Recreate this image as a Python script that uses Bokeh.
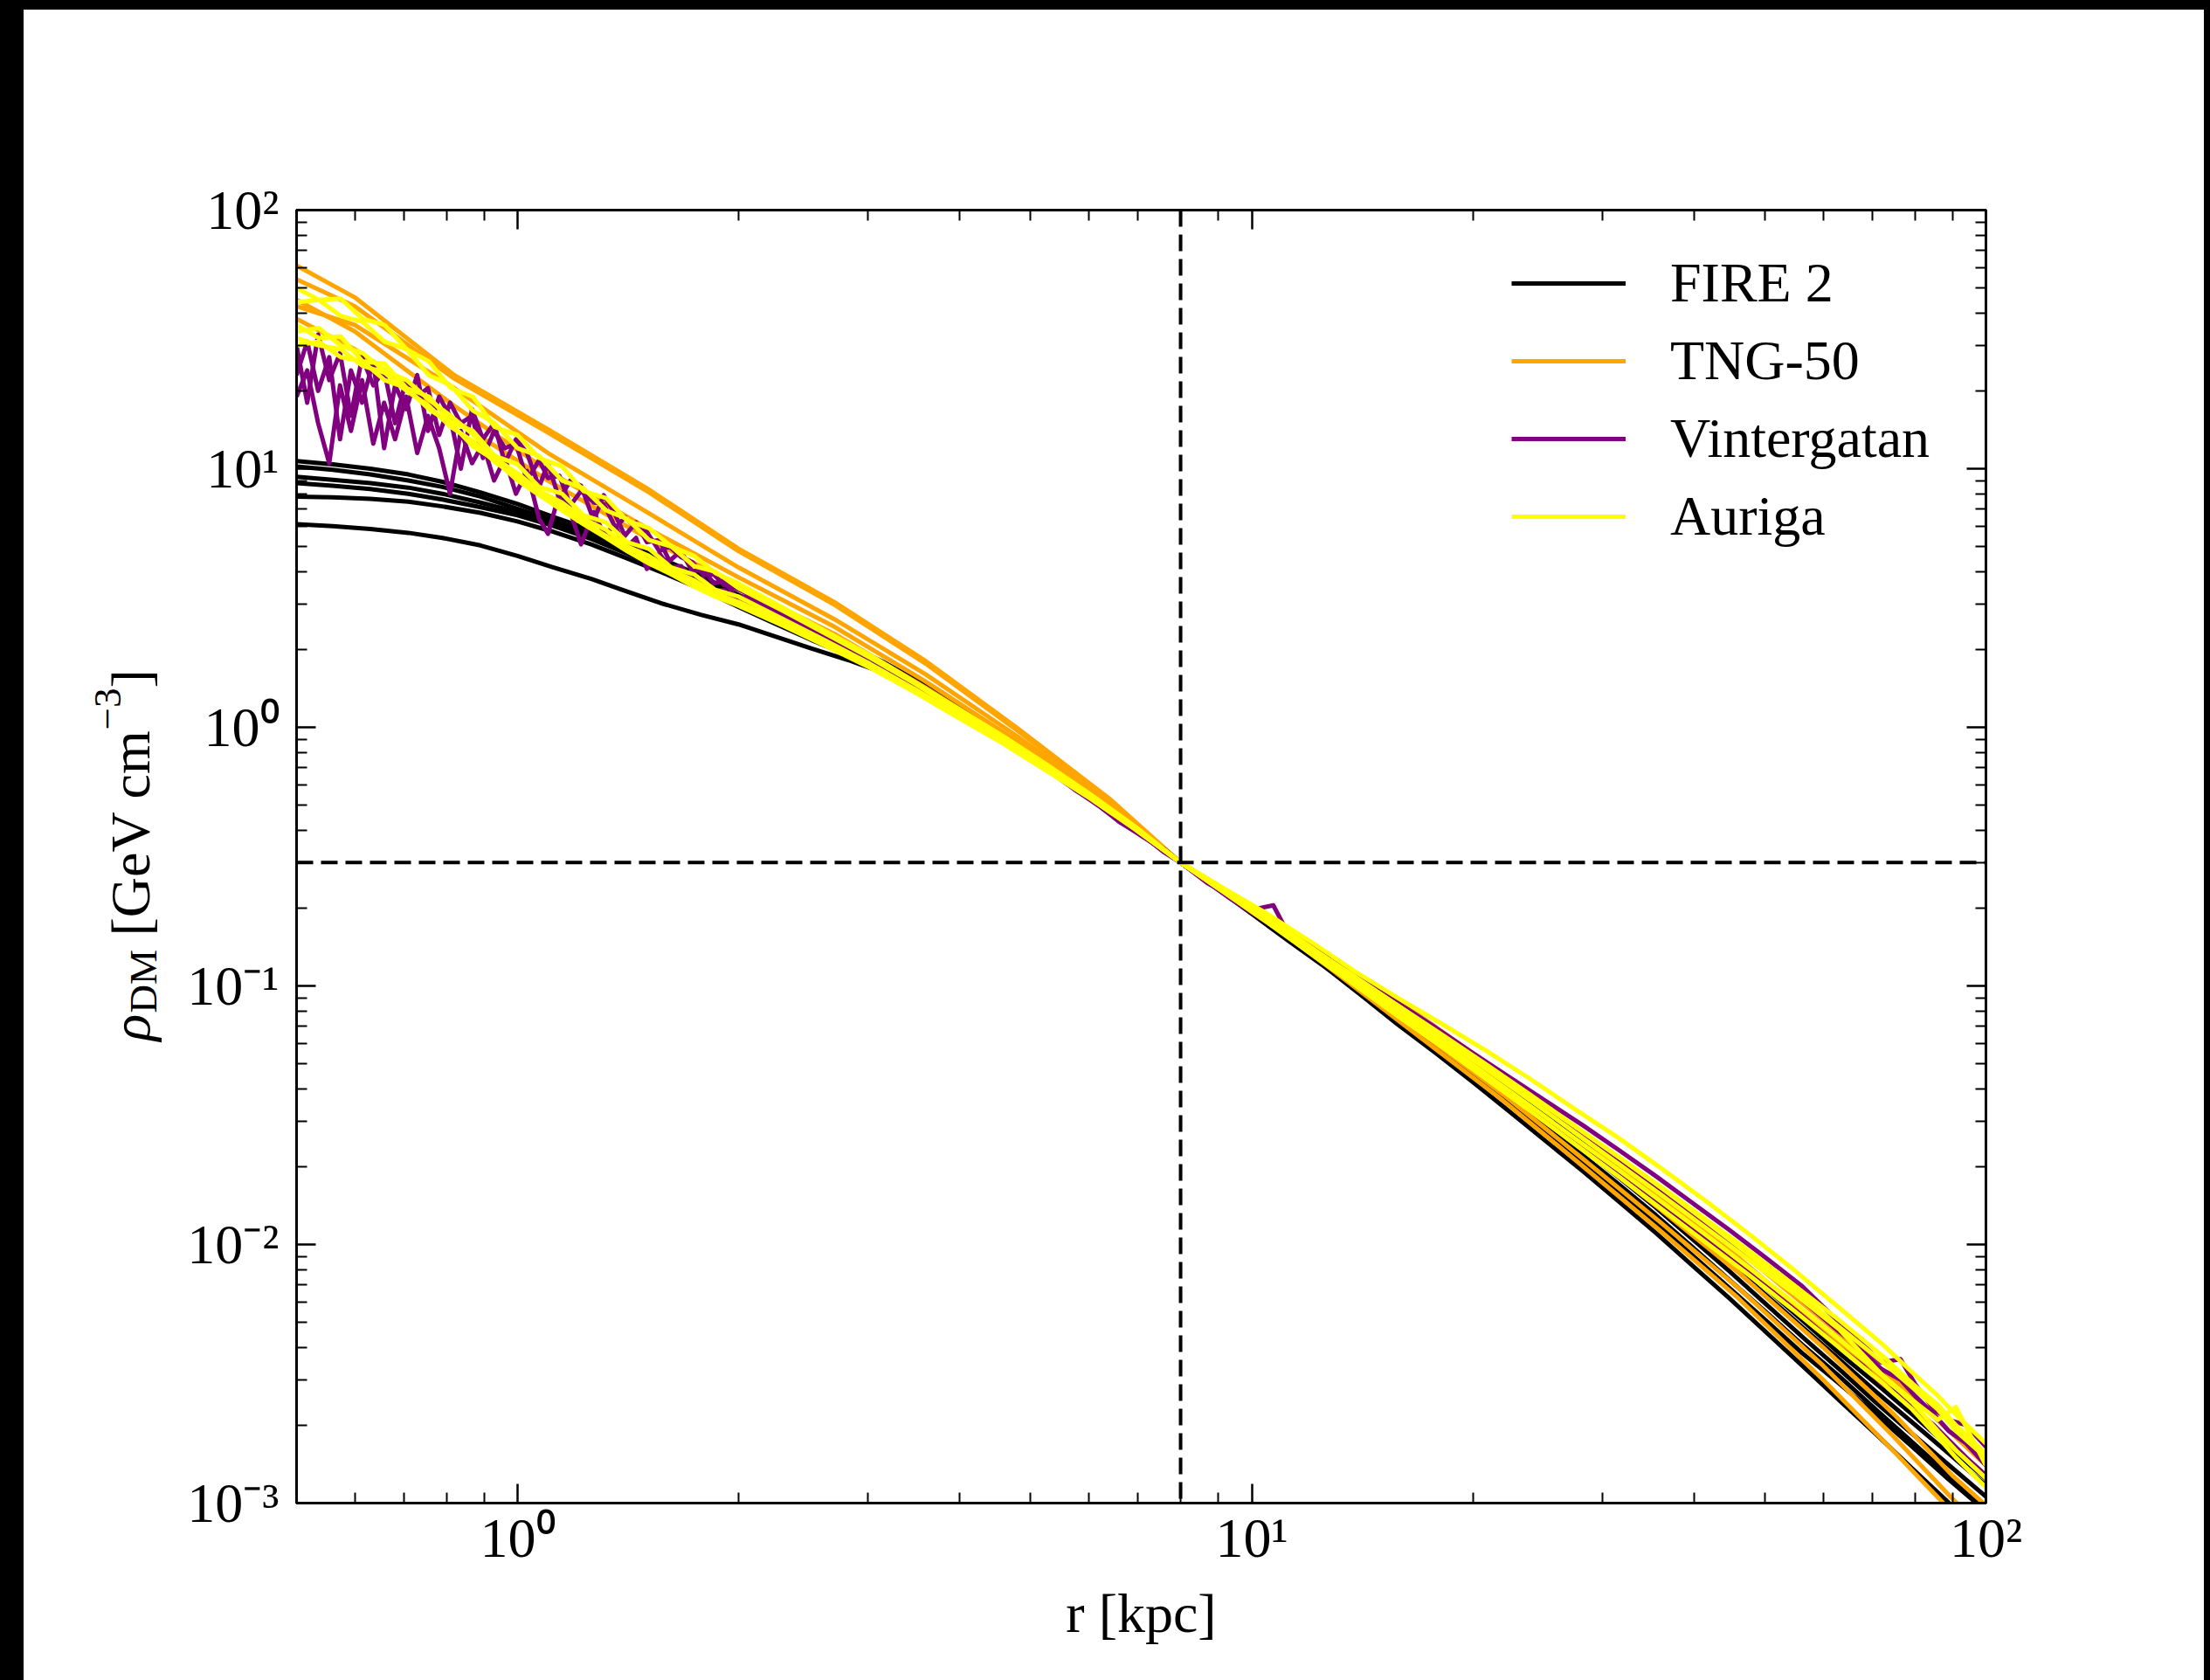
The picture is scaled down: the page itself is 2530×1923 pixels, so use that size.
import math

from bokeh.plotting import figure
from bokeh.models import FixedTicker, LogAxis, Span, Legend, LegendItem
from bokeh.layouts import row
from bokeh.core.properties import value
from bokeh.embed import file_html
from bokeh.resources import INLINE

# ---------------------------------------------------------------------------
# Dark-matter density profiles, rho_DM(r) in GeV cm^-3, r in kpc.
# Every halo is normalised to rho = 0.3 GeV cm^-3 at r = 8 kpc.
# ---------------------------------------------------------------------------

# FIRE 2
r_fire = [0.50, 0.56, 0.63, 0.71, 0.79, 0.89, 1.00, 1.12, 1.26, 1.41,
          1.58, 1.78, 2.00, 2.24, 2.51, 2.82, 3.16, 3.55, 3.98, 4.47,
          5.01, 5.62, 6.31, 7.08, 8.00, 8.91, 10.0, 11.2, 12.6, 14.1,
          15.8, 17.8, 20.0, 22.4, 25.1, 28.2, 31.6, 35.5, 39.8, 44.7,
          50.1, 56.2, 63.1, 70.8, 79.4, 89.1, 100.0]
fire_1 = [10.7, 10.4, 10.0, 9.5, 8.9, 8.1, 7.3, 6.5, 5.8, 5.1,
          4.45, 3.85, 3.25, 2.8, 2.4, 2.07, 1.78, 1.48, 1.2, 0.98,
          0.79, 0.63, 0.50, 0.39, 0.30, 0.243, 0.195, 0.157, 0.128, 0.103,
          0.083, 0.0665, 0.053, 0.042, 0.033, 0.026, 0.0203, 0.0155, 0.0118, 0.0090,
          0.0068, 0.0051, 0.0038, 0.0029, 0.0022, 0.00165, 0.00124]
fire_2 = [10.2, 9.9, 9.5, 9.0, 8.5, 7.8, 7.0, 6.3, 5.6, 4.95,
          4.35, 3.75, 3.2, 2.75, 2.36, 2.03, 1.74, 1.45, 1.18, 0.965,
          0.78, 0.62, 0.495, 0.387, 0.30, 0.244, 0.196, 0.158, 0.127, 0.101,
          0.080, 0.0635, 0.0505, 0.040, 0.0315, 0.0248, 0.0193, 0.0148, 0.0112, 0.0085,
          0.0064, 0.0048, 0.0036, 0.0027, 0.00205, 0.00155, 0.00117]
fire_3 = [9.3, 9.05, 8.8, 8.45, 8.0, 7.4, 6.8, 6.15, 5.5, 4.85,
          4.25, 3.65, 3.1, 2.66, 2.3, 1.98, 1.70, 1.42, 1.16, 0.95,
          0.77, 0.615, 0.49, 0.385, 0.30, 0.244, 0.195, 0.156, 0.125, 0.099,
          0.078, 0.062, 0.049, 0.0385, 0.030, 0.0235, 0.0182, 0.0139, 0.0105, 0.0079,
          0.0059, 0.0044, 0.0033, 0.00245, 0.00185, 0.0014, 0.00106]
fire_4 = [8.8, 8.6, 8.35, 8.0, 7.6, 7.1, 6.6, 6.0, 5.35, 4.7,
          4.1, 3.55, 3.0, 2.6, 2.25, 1.95, 1.68, 1.41, 1.16, 0.95,
          0.775, 0.62, 0.49, 0.386, 0.30, 0.243, 0.194, 0.155, 0.123, 0.097,
          0.0765, 0.060, 0.047, 0.0368, 0.0287, 0.0222, 0.0171, 0.013, 0.0098, 0.0073,
          0.0055, 0.0041, 0.0031, 0.0023, 0.00172, 0.00128, 0.00096]
fire_5 = [7.8, 7.75, 7.65, 7.45, 7.15, 6.75, 6.25, 5.7, 5.1, 4.5,
          3.95, 3.42, 2.92, 2.52, 2.18, 1.9, 1.64, 1.39, 1.15, 0.945,
          0.77, 0.615, 0.488, 0.384, 0.30, 0.242, 0.193, 0.154, 0.122, 0.096,
          0.075, 0.0585, 0.0455, 0.0352, 0.0272, 0.0209, 0.016, 0.0121, 0.0091, 0.0068,
          0.0051, 0.0038, 0.0029, 0.0022, 0.00165, 0.00123, 0.00093]
fire_6 = [6.1, 6.0, 5.85, 5.65, 5.4, 5.05, 4.6, 4.15, 3.75, 3.35,
          3.0, 2.72, 2.5, 2.25, 2.02, 1.82, 1.62, 1.38, 1.14, 0.94,
          0.765, 0.612, 0.487, 0.384, 0.30, 0.241, 0.19, 0.15, 0.118, 0.092,
          0.071, 0.055, 0.0425, 0.0328, 0.0252, 0.0193, 0.0147, 0.0111, 0.0083, 0.0062,
          0.0046, 0.0034, 0.0025, 0.00185, 0.00136, 0.001, 0.00073]

# TNG-50
r_tng = [0.50, 0.60, 0.82, 1.10, 1.50, 2.00, 2.70, 3.60, 4.80, 6.40,
         8.00, 10.5, 13.5, 17.0, 22.0, 28.0, 36.0, 46.0, 60.0, 75.0,
         90.0, 100.0]
tng_1 = [61, 46, 23, 14.2, 8.4, 4.9, 3.05, 1.8, 0.99, 0.53,
         0.30, 0.178, 0.104, 0.063, 0.036, 0.0205, 0.0113, 0.0062, 0.0030, 0.00158,
         0.00092, 0.00068]
tng_2 = [54, 42.5, 22.3, 13.8, 8.2, 4.8, 2.98, 1.76, 0.97, 0.52,
         0.30, 0.18, 0.107, 0.066, 0.038, 0.0219, 0.0122, 0.0068, 0.0034, 0.0018,
         0.00104, 0.00078]
tng_3 = [42.5, 36, 20.5, 11.5, 6.8, 4.15, 2.62, 1.6, 0.92, 0.51,
         0.30, 0.183, 0.112, 0.070, 0.041, 0.0240, 0.0137, 0.0078, 0.0040, 0.0022,
         0.00128, 0.00098]
tng_4 = [45, 34, 17.5, 9.8, 5.9, 3.8, 2.45, 1.5, 0.88, 0.50,
         0.30, 0.186, 0.116, 0.0735, 0.044, 0.0262, 0.0152, 0.0089, 0.0047, 0.0027,
         0.00165, 0.00125]
tng_5 = [38, 29, 15.5, 9.0, 5.4, 3.5, 2.3, 1.42, 0.85, 0.49,
         0.30, 0.188, 0.118, 0.076, 0.0455, 0.0275, 0.0161, 0.0095, 0.0051, 0.0030,
         0.00185, 0.0014]

# Vintergatan
r_vint = [0.500, 0.517, 0.535, 0.554, 0.573, 0.593, 0.614, 0.636, 0.658, 0.681,
          0.705, 0.730, 0.755, 0.782, 0.809, 0.837, 0.867, 0.897, 0.929, 0.961,
          0.995, 1.03, 1.07, 1.10, 1.14, 1.18, 1.22, 1.27, 1.31, 1.36,
          1.40, 1.45, 1.50, 1.56, 1.61, 1.67, 1.73, 1.79, 1.85, 1.91,
          1.98,
          2.05, 2.20, 2.36, 2.53, 2.71, 2.90, 3.10, 3.33, 3.56, 3.82,
          4.09, 4.38, 4.69, 5.02, 5.38, 5.76, 6.17, 6.61, 7.08, 7.58,
          8.00, 8.70, 9.30, 10.0,
          10.7, 11.2, 12.6, 14.1, 15.8, 17.8, 20.0, 22.4, 25.1, 28.2,
          31.6, 35.5, 39.8, 44.7, 50.1, 56.2, 63.1, 68.0, 72.0, 76.5,
          80.0, 85.0, 89.0, 94.0, 100.0]
vint_1 = [30, 18, 33, 22, 28, 16, 27, 21, 24, 15,
          22, 19, 20.5, 13.5, 18, 15, 16, 11, 14, 12,
          12.5, 9.0, 10.8, 9.2, 9.4, 7.2, 8.2, 7.4, 7.3, 5.9,
          6.5, 5.9, 5.7, 4.8, 5.0, 4.55, 4.35, 3.9, 3.9, 3.55,
          3.45,
          3.3, 2.95, 2.7, 2.35, 2.15, 1.9, 1.76, 1.55, 1.42, 1.22,
          1.12, 0.97, 0.87, 0.75, 0.67, 0.57, 0.51, 0.43, 0.385, 0.33,
          0.30, 0.25, 0.225, 0.197,
          0.205, 0.16, 0.132, 0.107, 0.086, 0.069, 0.055, 0.0445, 0.036, 0.029,
          0.0232, 0.0184, 0.0145, 0.0114, 0.0089, 0.0069, 0.0050, 0.0041, 0.0035, 0.0036,
          0.0029, 0.0023, 0.0021, 0.0020, 0.00165]
vint_2 = [19, 24, 15, 10.5, 21, 14, 22, 12.5, 18, 13,
          19, 11.5, 16, 12, 8.0, 14, 10.5, 12.5, 9.0, 11,
          8.0, 9.8, 6.4, 5.6, 8.0, 6.8, 5.1, 6.8, 5.6, 6.0,
          4.9, 5.4, 4.1, 4.7, 4.15, 4.2, 3.7, 3.75, 3.35, 3.4,
          3.05,
          3.1, 2.8, 2.55, 2.3, 2.05, 1.86, 1.68, 1.5, 1.36, 1.2,
          1.08, 0.95, 0.85, 0.74, 0.655, 0.57, 0.5, 0.43, 0.38, 0.335,
          0.30, 0.252, 0.22, 0.192,
          0.17, 0.158, 0.127, 0.101, 0.080, 0.0635, 0.050, 0.0395, 0.031, 0.0244,
          0.0192, 0.015, 0.0117, 0.009, 0.0069, 0.0053, 0.0040, 0.0034, 0.0029, 0.0026,
          0.0023, 0.002, 0.00175, 0.0015, 0.00128]
vint_3 = [23, 31, 20, 27, 13, 24, 18, 26, 12, 21,
          17, 23, 14, 19, 16, 10, 17, 13, 15, 10.5,
          13, 11.5, 8.5, 10.5, 7.6, 9.0, 8.6, 6.3, 7.9, 6.6,
          5.5, 6.2, 5.2, 5.3, 4.4, 4.8, 4.0, 4.1, 3.6, 3.7,
          3.2,
          3.2, 2.88, 2.62, 2.42, 2.1, 1.93, 1.72, 1.57, 1.39, 1.25,
          1.1, 0.99, 0.86, 0.77, 0.66, 0.59, 0.5, 0.45, 0.38, 0.34,
          0.30, 0.255, 0.222, 0.195,
          0.172, 0.16, 0.13, 0.104, 0.083, 0.066, 0.0525, 0.042, 0.0335, 0.0265,
          0.021, 0.0166, 0.0131, 0.0102, 0.0079, 0.0061, 0.0046, 0.0039, 0.0033, 0.003,
          0.0026, 0.0022, 0.0019, 0.0017, 0.0014]

# Auriga
r_auriga = [0.500, 0.536, 0.574, 0.615, 0.659, 0.706, 0.757, 0.811, 0.869, 0.931,
            1.00, 1.07, 1.15, 1.23, 1.32, 1.41, 1.51, 1.62, 1.74, 1.86,
            2.00, 2.30, 2.63, 3.02, 3.47, 3.98, 4.57, 5.25, 6.03, 6.92,
            8.00, 9.12, 10.5, 12.0, 13.8, 15.8, 18.2, 20.9, 24.0, 27.5,
            31.6, 36.3, 41.7, 47.9, 55.0, 63.1, 72.4, 79.4, 86.0, 91.0,
            100.0]
auriga_1 = [50, 45, 45.5, 38, 36, 29, 26, 20.5, 19, 14.5,
            13.5, 11.0, 10.2, 8.2, 7.7, 6.3, 5.9, 5.0, 4.6, 3.95,
            3.6, 2.9, 2.35, 1.9, 1.5, 1.18, 0.93, 0.72, 0.55, 0.415,
            0.30, 0.24, 0.19, 0.149, 0.114, 0.090, 0.071, 0.056, 0.0435, 0.0335,
            0.0258, 0.0195, 0.0146, 0.0108, 0.0079, 0.0057, 0.0041, 0.0032, 0.0026, 0.0022,
            0.0017]
auriga_2 = [44, 45, 39, 37, 31, 29, 23, 21, 16.8, 15,
            12.0, 11.2, 9.0, 8.4, 6.9, 6.4, 5.3, 5.0, 4.2, 4.0,
            3.45, 2.82, 2.3, 1.86, 1.48, 1.16, 0.91, 0.71, 0.545, 0.41,
            0.30, 0.236, 0.183, 0.142, 0.108, 0.084, 0.064, 0.049, 0.0375, 0.0287,
            0.0218, 0.0165, 0.0124, 0.0093, 0.0069, 0.0051, 0.0037, 0.0029, 0.0024, 0.0020,
            0.00155]
auriga_3 = [36, 32, 32.5, 26, 25.5, 20.5, 19, 15.2, 14.0, 11.2,
            10.4, 8.5, 8.0, 6.6, 6.2, 5.2, 4.9, 4.15, 3.9, 3.4,
            3.2, 2.62, 2.16, 1.76, 1.41, 1.12, 0.89, 0.70, 0.54, 0.41,
            0.30, 0.235, 0.181, 0.14, 0.107, 0.082, 0.0625, 0.0475, 0.036, 0.0272,
            0.0205, 0.0154, 0.0115, 0.0086, 0.0064, 0.0047, 0.0031, 0.0025, 0.0021, 0.00235,
            0.0014]
auriga_4 = [34, 35, 30, 28, 24, 22, 18.5, 16.0, 13.6, 11.0,
            9.6, 8.2, 7.4, 6.4, 5.8, 5.0, 4.6, 4.05, 3.7, 3.3,
            3.05, 2.55, 2.12, 1.74, 1.40, 1.11, 0.88, 0.69, 0.535, 0.408,
            0.30, 0.233, 0.178, 0.137, 0.104, 0.079, 0.060, 0.0453, 0.0342, 0.0258,
            0.0194, 0.0145, 0.0108, 0.0080, 0.0059, 0.0043, 0.0031, 0.00245, 0.0019, 0.0016,
            0.00125]
auriga_5 = [32, 30, 29, 25, 23.5, 20, 17.5, 14.5, 12.8, 10.6,
            9.3, 8.0, 7.1, 6.2, 5.5, 4.9, 4.4, 3.95, 3.6, 3.25,
            3.0, 2.5, 2.08, 1.71, 1.38, 1.10, 0.875, 0.685, 0.532, 0.406,
            0.30, 0.234, 0.181, 0.141, 0.109, 0.084, 0.0645, 0.0495, 0.0378, 0.0288,
            0.0218, 0.0164, 0.0122, 0.0090, 0.0066, 0.0048, 0.0035, 0.0028, 0.0023, 0.0019,
            0.0015]
auriga_6 = [30, 31, 27, 26, 22, 20.5, 17, 15, 12.2, 10.8,
            9.0, 7.9, 6.9, 6.1, 5.4, 4.8, 4.3, 3.9, 3.5, 3.2,
            2.95, 2.47, 2.06, 1.7, 1.37, 1.09, 0.87, 0.68, 0.53, 0.405,
            0.30, 0.232, 0.176, 0.134, 0.101, 0.0765, 0.0578, 0.0435, 0.0327, 0.0245,
            0.0183, 0.0136, 0.0101, 0.0075, 0.0055, 0.0040, 0.0029, 0.0023, 0.0018, 0.0015,
            0.00115]

# Solar radius and local density marked by the dashed guides
r_sun = 8.0
rho_local = 0.3

# Axis ranges, ticks and their labels
x_lim = (0.5, 100)
y_lim = (1e-3, 1e2)
x_major = [1, 10, 100]
x_tick_labels = ["10⁰", "10¹", "10²"]
x_minor = [0.5, 0.6, 0.7, 0.8, 0.9] + [k for k in range(2, 10)] + [10 * k for k in range(2, 10)]
y_major = [1e-3, 1e-2, 1e-1, 1, 10, 100]
y_tick_labels = ["10⁻³", "10⁻²", "10⁻¹", "10⁰", "10¹", "10²"]
y_minor = [k * 10.0 ** e for e in range(-3, 2) for k in range(2, 10)]

FONT = "Liberation Serif"
FS = "64px"
LW = 5

families = [
    ("FIRE 2", "#000000", r_fire, [fire_1, fire_2, fire_3, fire_4, fire_5, fire_6]),
    ("TNG-50", "#ffa500", r_tng, [tng_1, tng_2, tng_3, tng_4, tng_5]),
    ("Vintergatan", "#800080", r_vint, [vint_1, vint_2, vint_3]),
    ("Auriga", "#ffff00", r_auriga, [auriga_1, auriga_2, auriga_3, auriga_4, auriga_5, auriga_6]),
]

PAGE_H = 1912
BORDER_TOP, BORDER_BOTTOM = 229, 203
FRAME_H = PAGE_H - BORDER_TOP - BORDER_BOTTOM
TITLE_W = 175

# ---------------------------------------------------------------------------
# Main panel
# ---------------------------------------------------------------------------
fig = figure(
    width=2321, height=PAGE_H,
    x_axis_type="log", y_axis_type="log",
    x_range=x_lim, y_range=y_lim,
    output_backend="svg", toolbar_location=None,
    min_border_left=137, min_border_right=250,
    min_border_top=BORDER_TOP, min_border_bottom=BORDER_BOTTOM,
    background_fill_color="white", border_fill_color="white",
    outline_line_color="black", outline_line_width=3,
)
fig.grid.visible = False


def style_axis(ax, major, minor, labels=None):
    ax.ticker = FixedTicker(ticks=major, minor_ticks=minor)
    ax.axis_line_color = "black"
    ax.axis_line_width = 3
    ax.major_tick_in = 22
    ax.major_tick_out = 0
    ax.minor_tick_in = 12
    ax.minor_tick_out = 0
    ax.major_tick_line_width = 2.5
    ax.minor_tick_line_width = 2
    ax.major_tick_line_color = "black"
    ax.minor_tick_line_color = "black"
    if labels is None:
        ax.major_label_text_color = None
    else:
        ax.major_label_overrides = dict(zip(major, labels))
        ax.major_label_text_font = FONT
        ax.major_label_text_font_size = FS
        ax.major_label_text_color = "black"


xaxis = fig.xaxis[0]
yaxis = fig.yaxis[0]
style_axis(xaxis, x_major, x_minor, x_tick_labels)
style_axis(yaxis, y_major, y_minor, y_tick_labels)
xaxis.major_label_standoff = 4
yaxis.major_label_standoff = 20
xaxis.axis_label = "r [kpc]"
xaxis.axis_label_text_font = FONT
xaxis.axis_label_text_font_size = FS
xaxis.axis_label_text_font_style = "normal"
xaxis.axis_label_text_color = "black"
xaxis.axis_label_standoff = 12

top_axis = LogAxis()
style_axis(top_axis, x_major, x_minor)
fig.add_layout(top_axis, "above")
right_axis = LogAxis()
style_axis(right_axis, y_major, y_minor)
fig.add_layout(right_axis, "right")

# Profiles, drawn family by family
legend_items = []
for name, color, radii, profiles in families:
    rends = []
    for rho in profiles:
        assert len(rho) == len(radii)
        rends.append(fig.line(radii, rho, line_color=color, line_width=LW, line_join="round"))
    legend_items.append(LegendItem(label=name, renderers=[rends[0]]))

# Dashed guides at the solar position
dash_style = dict(line_color="black", line_width=4, line_dash="19 9")
fig.add_layout(Span(location=rho_local, dimension="width", **dash_style))
fig.add_layout(Span(location=r_sun, dimension="height", **dash_style))

legend = Legend(
    items=legend_items, location=(1391, 1092),
    label_text_font=FONT, label_text_font_size=FS, label_text_color="black",
    glyph_width=131, glyph_height=74, label_height=74, spacing=15,
    label_standoff=51, padding=0, margin=0,
    border_line_color=None, background_fill_alpha=0,
)
fig.add_layout(legend)

# ---------------------------------------------------------------------------
# Narrow strip on the left carrying the vertical axis title. Its frame lines
# up with the main frame; ranges are in pixels from the frame's lower-left.
# ---------------------------------------------------------------------------
title_fig = figure(
    width=TITLE_W, height=PAGE_H,
    x_range=(0, TITLE_W), y_range=(0, FRAME_H),
    output_backend="svg", toolbar_location=None,
    x_axis_location=None, y_axis_location=None,
    min_border_left=0, min_border_right=0,
    min_border_top=BORDER_TOP, min_border_bottom=BORDER_BOTTOM,
    background_fill_color="white", border_fill_color="white",
)
title_fig.grid.visible = False
title_fig.outline_line_color = None

ylabel_parts = [  # text, size, style, baseline x, start y (from frame bottom)
    ("ρ", "64px", "italic", 122, 529),
    ("DM", "45px", "normal", 136, 561),
    ("[GeV cm", "64px", "normal", 122, 649),
    ("−3", "45px", "normal", 96, 885),
    ("]", "64px", "normal", 122, 933),
]
for text, size, style, bx, by in ylabel_parts:
    title_fig.text(
        x=[bx], y=[by], text=[text], angle=math.pi / 2,
        text_font=value(FONT), text_font_size=value(size),
        text_font_style=value(style), text_align=value("left"),
        text_baseline=value("alphabetic"), text_color="black",
    )

# White sheet holding both panels, framed by the dark page edge
sheet = row(title_fig, fig, styles={"background-color": "white"}, margin=(11, 7, 0, 27))
p = row(sheet, styles={"background-color": "black"})

with open("out.html", "w") as f:
    f.write(file_html(p, INLINE, title="Dark matter density profiles"))
